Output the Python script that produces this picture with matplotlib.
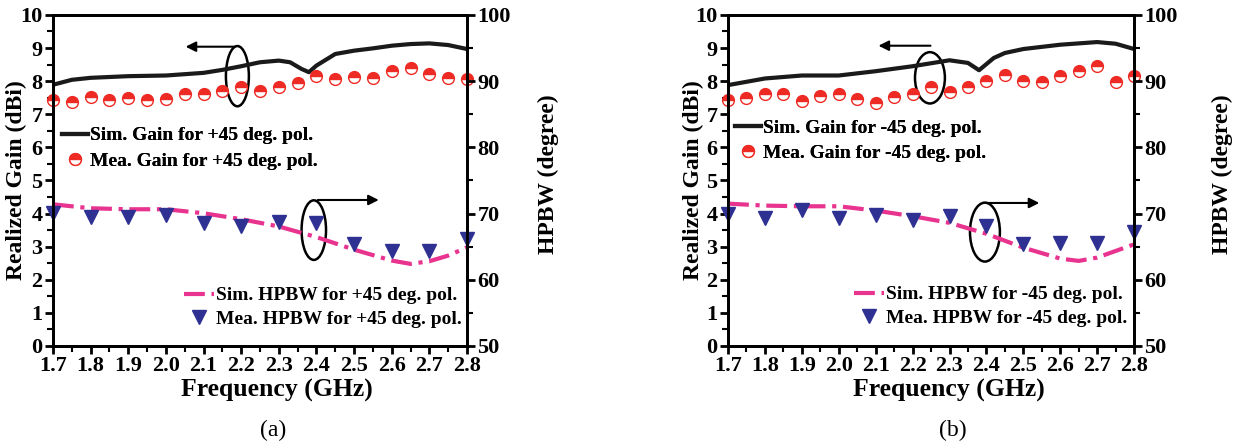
import matplotlib
matplotlib.use("Agg")
from matplotlib import pyplot as plt
from matplotlib.patches import Ellipse
from matplotlib.ticker import MultipleLocator

plt.rcParams["font.family"] = ["Liberation Serif", "DejaVu Serif"]
plt.rcParams["font.weight"] = "bold"

# ---- data ----
mea_freq = [1.7 + 0.05 * i for i in range(23)]
hpbw_freq = [1.7, 1.8, 1.9, 2.0, 2.1, 2.2, 2.3, 2.4, 2.5, 2.6, 2.7, 2.8]
sim_hpbw_freq = [1.7, 1.8, 1.9, 2.0, 2.1, 2.2, 2.3, 2.4, 2.5, 2.6, 2.65, 2.7, 2.75, 2.8]
freq_ticks = [1.7, 1.8, 1.9, 2.0, 2.1, 2.2, 2.3, 2.4, 2.5, 2.6, 2.7, 2.8]

# (a) +45 deg pol.
sim_gain_freq_a = [1.7, 1.75, 1.8, 1.9, 2.0, 2.1, 2.15, 2.2, 2.25, 2.3, 2.33, 2.36, 2.38, 2.4,
                   2.45, 2.5, 2.55, 2.6, 2.65, 2.7, 2.75, 2.8]
sim_gain_a = [7.89, 8.04, 8.1, 8.15, 8.17, 8.25, 8.34, 8.45, 8.57, 8.62, 8.57, 8.37, 8.27, 8.47,
              8.82, 8.92, 8.99, 9.07, 9.12, 9.14, 9.09, 8.97]
mea_gain_a = [7.42, 7.37, 7.52, 7.44, 7.49, 7.42, 7.47, 7.6, 7.6, 7.69, 7.82, 7.69, 7.81, 7.95,
              8.14, 8.07, 8.13, 8.1, 8.32, 8.4, 8.22, 8.09, 8.07]
sim_hpbw_a = [71.4, 70.8, 70.65, 70.65, 70.05, 69.15, 68.05, 66.45, 64.55, 62.9, 62.4, 62.8, 63.65, 64.9]
mea_hpbw_a = [70.05, 69.45, 69.45, 69.8, 68.65, 68.15, 68.8, 68.65, 65.45, 64.3, 64.3, 66.15]

# (b) -45 deg pol.
sim_gain_freq_b = [1.7, 1.8, 1.9, 2.0, 2.1, 2.2, 2.3, 2.35, 2.38, 2.42, 2.45, 2.5, 2.6, 2.7, 2.75, 2.8]
sim_gain_b = [7.88, 8.08, 8.17, 8.17, 8.3, 8.45, 8.63, 8.55, 8.33, 8.7, 8.85, 8.97, 9.1, 9.18, 9.13, 8.97]
mea_gain_b = [7.42, 7.48, 7.62, 7.6, 7.4, 7.55, 7.6, 7.47, 7.35, 7.52, 7.62, 7.83, 7.68, 7.83,
              8.0, 8.2, 8.0, 7.98, 8.17, 8.3, 8.45, 7.97, 8.15]
sim_hpbw_b = [71.5, 71.2, 71.1, 71.1, 70.45, 69.6, 68.6, 66.95, 64.85, 63.2, 62.85, 63.35, 64.35, 65.35]
mea_hpbw_b = [70.0, 69.35, 70.6, 69.35, 69.85, 69.1, 69.7, 68.1, 65.35, 65.6, 65.5, 67.2]

BLACK = "#1a1a1a"
MAGENTA = "#e8338f"
RED = "#ee2a24"
NAVY = "#2e3192"
TICK_FS = 16
LABEL_FS = 17
LEG_FS = 14


def drawPanel(rect, pol, sim_gf, sim_g, mea_g, sim_h, mea_h, ell_top, ell_bot, arr_top, arr_bot,
              leg_top, leg_bot, ylab_x, xlab_x):
    ax = fig.add_axes(rect)
    ax2 = ax.twinx()

    l1, = ax.plot(sim_gf, sim_g, "-", color=BLACK, lw=3, label="Sim. Gain for %s deg. pol." % pol)
    l2, = ax.plot(mea_freq, mea_g, "o", ms=8.5, color=RED, fillstyle="top", markerfacecoloralt="white",
                  markeredgecolor=RED, markeredgewidth=1, clip_on=False,
                  label="Mea. Gain for %s deg. pol." % pol)
    l3, = ax2.plot(sim_hpbw_freq, sim_h, color=MAGENTA, lw=3, linestyle=(0, (5, 1.6, 1, 1.6)),
                   label="Sim. HPBW for %s deg. pol." % pol)
    l4, = ax2.plot(hpbw_freq, mea_h, "v", ms=10, color=NAVY, clip_on=False,
                   label="Mea. HPBW for %s deg. pol." % pol)

    ax.set_xlim(1.7, 2.8)
    ax.set_ylim(0, 10)
    ax2.set_ylim(50, 100)
    ax.set_xticks(freq_ticks)
    ax.set_xticklabels(["%.1f" % v for v in freq_ticks])
    ax.xaxis.set_minor_locator(MultipleLocator(0.05))
    ax.yaxis.set_major_locator(MultipleLocator(1))
    ax.yaxis.set_minor_locator(MultipleLocator(0.5))
    ax2.yaxis.set_major_locator(MultipleLocator(10))
    ax2.yaxis.set_minor_locator(MultipleLocator(5))

    for a in (ax, ax2):
        for sp in a.spines.values():
            sp.set_linewidth(2)
        a.tick_params(which="major", direction="out", length=6, width=2, labelsize=TICK_FS, pad=1.5)
        a.tick_params(which="minor", direction="out", length=4, width=1.5)
    ax2.tick_params(axis="x", which="both", top=False)

    ax.set_xlabel("Frequency (GHz)", fontsize=LABEL_FS + 1.5, fontweight="bold", va="center")
    ax.xaxis.set_label_coords(xlab_x, -0.133)
    ax.set_ylabel("Realized Gain (dBi)", fontsize=LABEL_FS, fontweight="bold", va="center", ha="center")
    ax.yaxis.set_label_coords(ylab_x[0], 0.5)
    ax2.set_ylabel("HPBW (degree)", fontsize=LABEL_FS, fontweight="bold", rotation=90,
                   va="center", ha="center")
    ax2.yaxis.set_label_coords(ylab_x[1], 0.52)

    # ellipses with arrows
    ax.add_patch(Ellipse(ell_top[:2], ell_top[2], ell_top[3], fill=False, color="black", lw=1.8))
    ax.add_patch(Ellipse(ell_bot[:2], ell_bot[2], ell_bot[3], fill=False, color="black", lw=1.8))
    ax.annotate("", xy=(arr_top[1], arr_top[2]), xytext=(arr_top[0], arr_top[2]),
                arrowprops=dict(arrowstyle="-|>", color="black", lw=1.5, mutation_scale=15))
    ax.annotate("", xy=(arr_bot[1], arr_bot[2]), xytext=(arr_bot[0], arr_bot[2]),
                arrowprops=dict(arrowstyle="-|>", color="black", lw=1.5, mutation_scale=15))

    leg1 = ax.legend(handles=[l1, l2], loc="center left", bbox_to_anchor=leg_top, frameon=False,
                     fontsize=LEG_FS, handlelength=1.35, handletextpad=0.1, labelspacing=0.4,
                     borderaxespad=0, borderpad=0)
    ax.add_artist(leg1)
    ax2.legend(handles=[l3, l4], loc="center right", bbox_to_anchor=leg_bot, frameon=False,
               fontsize=LEG_FS, handlelength=1.55, handletextpad=0.1, labelspacing=0.3,
               borderaxespad=0, borderpad=0)
    return ax


fig = plt.figure(figsize=(12.52, 4.48), dpi=100)

drawPanel([0.0423, 0.2277, 0.3307, 0.739], "+45", sim_gain_freq_a, sim_gain_a, mea_gain_a,
          sim_hpbw_a, mea_hpbw_a,
          (2.19, 8.15, 0.061, 1.82), (2.393, 3.5, 0.065, 1.8),
          (2.19, 2.045, 9.04), (2.396, 2.573, 4.41),
          (0.022, 0.597), (0.988, 0.117), (-0.087, 1.196), 0.541)
drawPanel([0.5815, 0.2277, 0.3243, 0.739], "-45", sim_gain_freq_b, sim_gain_b, mea_gain_b,
          sim_hpbw_b, mea_hpbw_b,
          (2.247, 8.1, 0.081, 1.55), (2.396, 3.44, 0.081, 1.78),
          (2.256, 2.10, 9.07), (2.396, 2.551, 4.32),
          (0.017, 0.621), (0.983, 0.12), (-0.086, 1.217), 0.545)

fig.text(273 / 1252, 1 - 430 / 448, "(a)", fontsize=17, fontweight="normal", ha="center", va="center")
fig.text(953 / 1252, 1 - 430 / 448, "(b)", fontsize=17, fontweight="normal", ha="center", va="center")

fig.savefig("out.png", dpi=100)
